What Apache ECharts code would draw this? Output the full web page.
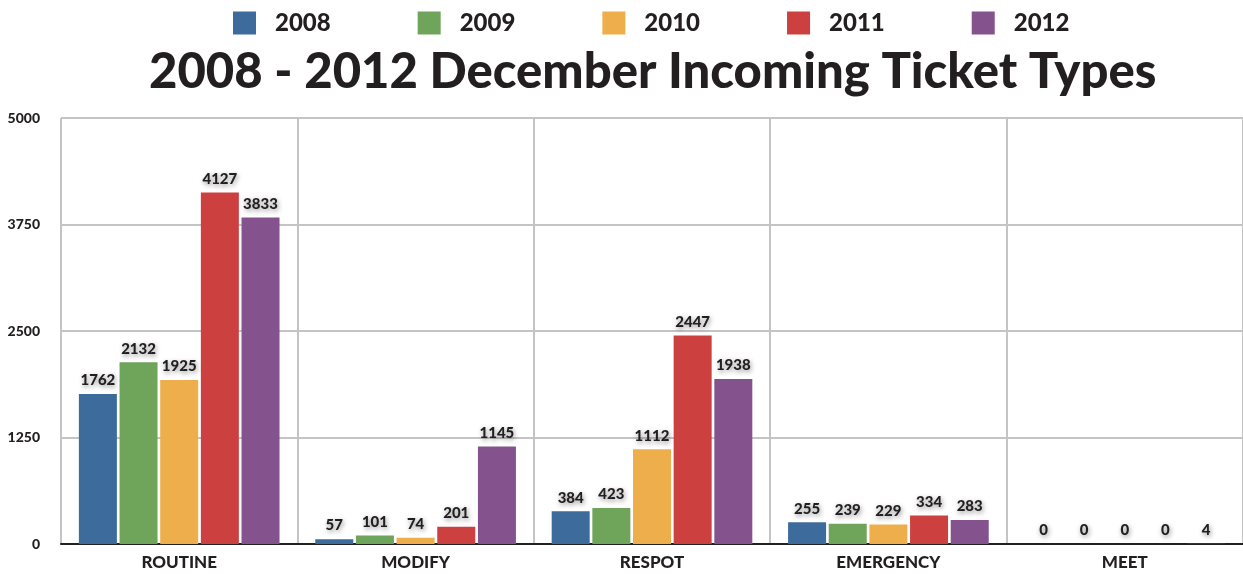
<!DOCTYPE html>
<html>
<head>
<meta charset="utf-8">
<script src="https://cdn.jsdelivr.net/npm/echarts@6/dist/echarts.min.js"></script>
<style>
html,body{margin:0;padding:0;background:#fff;}
#c{width:1243px;height:574px;}
</style>
</head>
<body>
<div id="c"></div>
<script>
const categories = ['ROUTINE', 'MODIFY', 'RESPOT', 'EMERGENCY', 'MEET'];
const years = ['2008', '2009', '2010', '2011', '2012'];
const v2008 = [1762, 57, 384, 255, 0];
const v2009 = [2132, 101, 423, 239, 0];
const v2010 = [1925, 74, 1112, 229, 0];
const v2011 = [4127, 201, 2447, 334, 0];
const v2012 = [3833, 1145, 1938, 283, 4];
const yTicks = [0, 1250, 2500, 3750, 5000];
const colors = ['#3d6b9b', '#6ea55a', '#edae4b', '#cc4040', '#84528c'];

const FONT = 'Lato';
const seriesData = [v2008, v2009, v2010, v2011, v2012];

const chart = echarts.init(document.getElementById('c'), null, {renderer: 'canvas'});
chart.setOption({
  animation: false,
  backgroundColor: '#ffffff',
  color: colors,
  title: {
    text: '2008 - 2012 December Incoming Ticket Types',
    left: 144,
    top: 43,
    textStyle: {fontFamily: FONT, fontWeight: 900, fontSize: 49, color: '#231f20'}
  },
  legend: {
    data: years,
    left: 228,
    top: 6,
    itemWidth: 23,
    itemHeight: 23,
    itemGap: 87,
    icon: 'rect',
    textStyle: {fontFamily: FONT, fontWeight: 900, fontSize: 24, color: '#231f20', width: 55, padding: [0, 0, 0, 14]}
  },
  grid: {left: 61, top: 118, width: 1185, height: 426, containLabel: false},
  xAxis: {
    type: 'category',
    data: categories,
    axisLine: {show: true, lineStyle: {color: '#222', width: 2}},
    axisTick: {show: false},
    splitLine: {show: true, interval: 0, lineStyle: {color: '#c4c4c4', width: 2}},
    axisLabel: {fontFamily: FONT, fontWeight: 900, fontSize: 17, color: '#231f20', margin: 10}
  },
  yAxis: {
    type: 'value',
    min: yTicks[0],
    max: yTicks[yTicks.length - 1],
    interval: yTicks[1] - yTicks[0],
    axisLine: {show: false},
    axisTick: {show: false},
    splitLine: {show: true, lineStyle: {color: '#c4c4c4', width: 2}},
    axisLabel: {fontFamily: FONT, fontWeight: 900, fontSize: 14, color: '#231f20', margin: 21, formatter: v => String(v)}
  },
  series: years.map((y, i) => ({
    name: y,
    type: 'bar',
    data: seriesData[i],
    barWidth: 38,
    barGap: '7%',
    itemStyle: {color: colors[i]},
    label: {
      show: true,
      position: 'top',
      distance: 6,
      fontFamily: FONT,
      fontWeight: 900,
      fontSize: 15,
      color: '#231f20',
      textShadowColor: 'rgba(0,0,0,0.45)',
      textShadowBlur: 5,
      textShadowOffsetX: 1,
      textShadowOffsetY: 2
    }
  }))
});
</script>
</body>
</html>
